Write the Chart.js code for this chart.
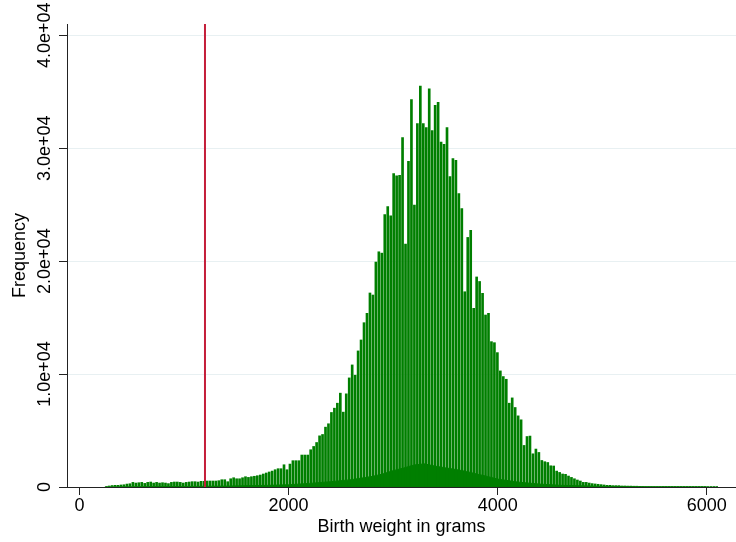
<!DOCTYPE html>
<html lang="en">
<head>
    <meta charset="UTF-8">
    <title>Birth weight heaping</title>
    <script src="https://cdn.jsdelivr.net/npm/chart.js"></script>
    <style>
        body {
            margin: 0;
            background: #ffffff;
        }
        canvas {
            display: block;
        }
    </style>
</head>
<body>
    <canvas id="chart" width="736" height="542"></canvas>
    <script>
        // spikes sit on whole ounces (1 oz = 28.3495 g), first one at 9 oz
        const SPIKE_FIRST_OZ = 9;
        const GRAMS_PER_OZ = 28.3495;
        const SPIKE_FREQ = [
            50, 90, 130, 150, 150, 180, 200, 260, 290, 410,          // 9-18
            350, 380, 410, 320, 410, 440, 350, 410, 350, 380,        // 19-28
            350, 300, 410, 440, 440, 410, 350, 410, 440, 470,        // 29-38
            470, 440, 500, 500, 530, 530, 530, 530, 560, 645,        // 39-48
            645, 470, 730, 820, 730, 730, 820, 910, 850, 910,        // 49-58
            950, 1000, 1060, 1150, 1240, 1330, 1410, 1530, 1620, 1620, // 59-68
            1970, 1530, 2030, 2330, 2330, 2330, 2830, 2830, 2830, 3300, // 69-78
            3590, 3940, 4530, 4650, 5300, 5600, 6600, 6980, 7420, 8310, // 79-88
            6630, 8250, 9660, 10810, 9900, 12050, 13020, 14550, 15380, 17180, // 89-98
            17000, 19920, 20830, 20710, 24130, 24840, 24010, 27760, 27550, 27610, // 99-108
            30940, 21510, 28850, 34300, 24960, 32180, 35500, 32180, 31820, 35270, // 109-118
            31560, 33800, 34060, 30550, 30350, 31820, 27490, 29080, 28930, 25990, // 119-128
            24660, 17290, 22100, 22720, 15820, 18600, 18200, 17150, 15230, 15380, // 129-138
            12870, 12780, 11900, 10280, 9780, 9540, 7420, 7890, 7040, 6300, // 139-148
            5950, 3680, 4470, 4510, 2940, 3360, 3060, 2350, 2240, 2170, // 149-158
            1880, 1860, 1410, 1290, 1150, 1120, 970, 850, 730, 620,   // 159-168
            530, 410, 410, 350, 300, 270, 240, 210, 180, 150,         // 169-178
            150, 120, 120, 120, 90, 90, 80, 80, 70, 70,               // 179-188
            60, 60, 50, 50, 50, 40, 40, 40, 30, 30,                   // 189-198
            30, 30, 25, 25, 20, 20, 20, 20, 15, 15,                   // 199-208
            15, 15, 10, 10, 10, 10, 10                                // 209-215
        ];

        // the low, non-heaped mass under the spikes
        const BASE_GRAMS = [250, 600, 1000, 1400, 1800, 2000, 2200, 2400, 2600, 2800, 2900, 3000, 3100, 3200,
            3300, 3400, 3500, 3600, 3700, 3800, 3900, 4000, 4200, 4400, 4600, 5000, 5400, 6000];
        const BASE_FREQ = [10, 30, 50, 80, 150, 200, 320, 470, 650, 940, 1150, 1450, 1680, 1950,
            2050, 1850, 1700, 1550, 1380, 1150, 940, 700, 430, 260, 150, 60, 20, 5];

        const CUTOFF_GRAMS = 1200;

        const X_TICKS = [0, 2000, 4000, 6000];
        const Y_TICKS = [0, 10000, 20000, 30000, 40000];
        const Y_TICK_LABELS = ['0', '1.0e+04', '2.0e+04', '3.0e+04', '4.0e+04'];

        const X_MIN = -120, X_MAX = 6280;
        const Y_MAX = 41000;

        const GREEN = '#007f00';
        const AXIS = '#222222';
        const FONT = { family: '"Liberation Sans", Arial, Helvetica, sans-serif', size: 18 };

        const spikes = SPIKE_FREQ.map((f, i) => ({ x: (SPIKE_FIRST_OZ + i) * GRAMS_PER_OZ, y: f }));
        const base = BASE_GRAMS.map((g, i) => ({ x: g, y: BASE_FREQ[i] }));
        const cutoff = [{ x: CUTOFF_GRAMS, y: 0 }, { x: CUTOFF_GRAMS, y: Y_MAX }];

        new Chart(document.getElementById('chart'), {
            type: 'bar',
            data: {
                datasets: [
                    {
                        type: 'line',
                        data: cutoff,
                        borderColor: '#c41e3a',
                        borderWidth: 2,
                        pointRadius: 0,
                        order: 0
                    },
                    {
                        type: 'bar',
                        data: spikes,
                        backgroundColor: GREEN,
                        borderWidth: 0,
                        barThickness: 2,
                        grouped: false,
                        order: 1
                    },
                    {
                        type: 'line',
                        data: base,
                        backgroundColor: GREEN,
                        borderColor: GREEN,
                        borderWidth: 1,
                        fill: 'origin',
                        pointRadius: 0,
                        order: 2
                    }
                ]
            },
            options: {
                responsive: false,
                animation: false,
                layout: { padding: { top: 24, right: 0, left: 0, bottom: 0 } },
                plugins: {
                    legend: { display: false },
                    tooltip: { enabled: false }
                },
                scales: {
                    x: {
                        type: 'linear',
                        min: X_MIN,
                        max: X_MAX,
                        offset: false,
                        afterBuildTicks: s => { s.ticks = X_TICKS.map(v => ({ value: v })); },
                        afterFit: s => { s.height = 55; },
                        grid: { drawOnChartArea: false, offset: false, tickLength: 8, tickColor: AXIS },
                        border: { color: AXIS, width: 1 },
                        ticks: { color: '#000', font: FONT, padding: 0, maxRotation: 0, callback: v => String(v) },
                        title: { display: true, text: 'Birth weight in grams', color: '#000', font: FONT, padding: { top: 0, bottom: 4 } }
                    },
                    y: {
                        type: 'linear',
                        min: 0,
                        max: Y_MAX,
                        afterBuildTicks: s => { s.ticks = Y_TICKS.map(v => ({ value: v })); },
                        afterFit: s => { s.width = 67; },
                        grid: { color: '#e8f0f2', tickLength: 8, tickColor: AXIS },
                        border: { color: AXIS, width: 1 },
                        ticks: {
                            color: '#000',
                            font: FONT,
                            minRotation: 90,
                            maxRotation: 90,
                            crossAlign: 'center',
                            padding: -19,
                            callback: v => Y_TICK_LABELS[Y_TICKS.indexOf(v)]
                        },
                        title: { display: true, text: 'Frequency', color: '#000', font: FONT, padding: { top: 9, bottom: 0 } }
                    }
                }
            }
        });
    </script>
</body>
</html>
